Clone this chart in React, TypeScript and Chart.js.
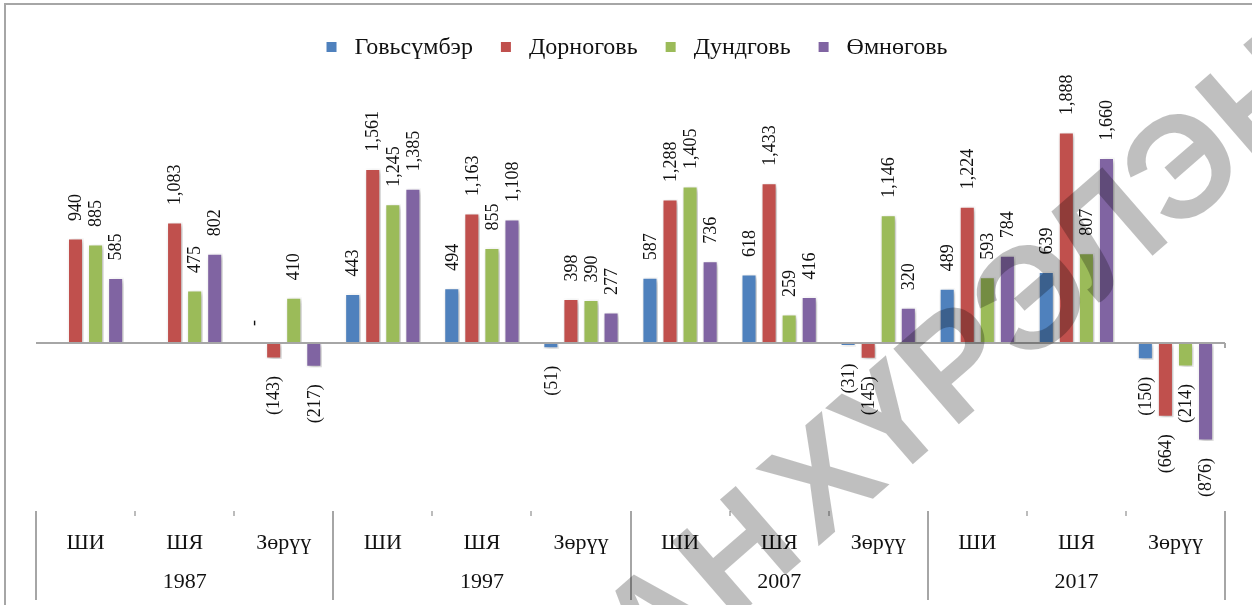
import React, { useEffect, useRef } from "react";
import { Chart, registerables } from "chart.js";

Chart.register(...registerables);

const categories = ["ШИ", "ШЯ", "Зөрүү", "ШИ", "ШЯ", "Зөрүү", "ШИ", "ШЯ", "Зөрүү", "ШИ", "ШЯ", "Зөрүү"];
const years = ["1987", "1997", "2007", "2017"];
const seriesNames = ["Говьсүмбэр", "Дорноговь", "Дундговь", "Өмнөговь"];
const seriesColors = ["#4F81BD", "#C0504D", "#9BBB59", "#8064A2"];
const govisumber = [null, null, 0, 443, 494, -51, 587, 618, -31, 489, 639, -150];
const dornogovi = [940, 1083, -143, 1561, 1163, 398, 1288, 1433, -145, 1224, 1888, -664];
const dundgovi = [885, 475, 410, 1245, 855, 390, 1405, 259, 1146, 593, 807, -214];
const umnugovi = [585, 802, -217, 1385, 1108, 277, 736, 416, 320, 784, 1660, -876];
const watermarkLeft = "САН";
const watermarkRight = "ХҮРЭЛЭН";

const SERIF = '"Liberation Serif", "Times New Roman", serif';
const GRAY = "#a6a6a6";

function fmt(v: number): string {
  if (v === 0) return "-";
  const s = Math.abs(v).toLocaleString("en-US");
  return v < 0 ? "(" + s + ")" : s;
}

const decorPlugin = {
  id: "decor",
  beforeDatasetsDraw(chart: any) {
    const ctx = chart.ctx;
    ctx.save();
    ctx.shadowColor = "rgba(0,0,0,0.28)";
    ctx.shadowBlur = 5;
    ctx.shadowOffsetX = 2;
    ctx.shadowOffsetY = 2;
  },
  afterDatasetsDraw(chart: any) {
    const ctx = chart.ctx;
    ctx.restore();
    const area = chart.chartArea;
    const yScale = chart.scales.y;
    const y0 = yScale.getPixelForValue(0);

    // zero line
    ctx.save();
    ctx.strokeStyle = GRAY;
    ctx.lineWidth = 2;
    ctx.beginPath();
    ctx.moveTo(area.left, y0);
    ctx.lineTo(area.right, y0);
    ctx.moveTo(area.right, y0);
    ctx.lineTo(area.right, y0 + 5);
    ctx.stroke();
    ctx.restore();

    // data labels
    ctx.save();
    ctx.fillStyle = "#111";
    ctx.font = "18px " + SERIF;
    ctx.textBaseline = "middle";
    chart.data.datasets.forEach((ds: any, i: number) => {
      const meta = chart.getDatasetMeta(i);
      meta.data.forEach((bar: any, j: number) => {
        const v = ds.data[j];
        if (v === null || v === undefined) return;
        const neg = v < 0;
        ctx.save();
        ctx.translate(bar.x, bar.y + (neg ? 17 : -17));
        ctx.rotate(-Math.PI / 2);
        ctx.textAlign = neg ? "right" : "left";
        ctx.fillText(fmt(v), 0, 1);
        ctx.restore();
      });
    });
    ctx.restore();

    // category axis
    const xScale = chart.scales.x;
    const n = categories.length;
    const catW = (area.right - area.left) / n;
    ctx.save();
    ctx.fillStyle = "#111";
    ctx.textAlign = "center";
    ctx.textBaseline = "middle";
    ctx.font = "22px " + SERIF;
    categories.forEach((c, i) => {
      ctx.fillText(c, xScale.getPixelForValue(i), 543);
    });
    years.forEach((yr, k) => {
      ctx.fillText(yr, xScale.getPixelForValue(k * 3 + 1), 582);
    });
    ctx.strokeStyle = GRAY;
    for (let i = 0; i <= n; i++) {
      const x = Math.round(area.left + i * catW);
      ctx.beginPath();
      if (i % 3 === 0) {
        ctx.lineWidth = 2;
        ctx.moveTo(x, 511);
        ctx.lineTo(x, 600);
      } else {
        ctx.lineWidth = 1.5;
        ctx.moveTo(x, 511);
        ctx.lineTo(x, 516);
      }
      ctx.stroke();
    }
    ctx.restore();

    // legend
    ctx.save();
    ctx.font = "24px " + SERIF;
    ctx.textBaseline = "middle";
    ctx.textAlign = "left";
    const sq = 10;
    const gapSq = 18;
    const gapItem = 28;
    const widths = seriesNames.map((s) => ctx.measureText(s).width);
    let total = 0;
    widths.forEach((w, i) => {
      total += sq + gapSq + w + (i < widths.length - 1 ? gapItem : 0);
    });
    let x = 637 - total / 2;
    const ly = 47;
    seriesNames.forEach((s, i) => {
      ctx.fillStyle = seriesColors[i];
      ctx.fillRect(x, ly - sq / 2, sq, sq);
      x += sq + gapSq;
      ctx.fillStyle = "#111";
      ctx.fillText(s, x, ly + 1);
      x += widths[i] + gapItem;
    });
    ctx.restore();

    // frame
    ctx.save();
    ctx.strokeStyle = GRAY;
    ctx.lineWidth = 2;
    ctx.beginPath();
    ctx.moveTo(5, chart.height);
    ctx.lineTo(5, 4);
    ctx.lineTo(chart.width, 4);
    ctx.stroke();
    ctx.restore();
  },
  afterDraw(chart: any) {
    const ctx = chart.ctx;
    ctx.save();
    ctx.font = 'bold 145px "Liberation Sans", Arial, sans-serif';
    ctx.fillStyle = "rgba(0,0,0,0.25)";
    ctx.textBaseline = "alphabetic";
    ctx.translate(820, 476);
    ctx.rotate((-41 * Math.PI) / 180);
    const xw = ctx.measureText("Х").width;
    ctx.textAlign = "left";
    ctx.fillText(watermarkRight, -xw / 2, 52);
    ctx.textAlign = "right";
    ctx.fillText(watermarkLeft, -xw / 2 - 12, 52);
    ctx.restore();
  },
};

export default function App() {
  const ref = useRef<HTMLCanvasElement | null>(null);
  useEffect(() => {
    document.body.style.margin = "0";
    document.body.style.overflow = "hidden";
    const canvas = ref.current;
    if (!canvas) return;
    const series = [govisumber, dornogovi, dundgovi, umnugovi];
    const chart = new Chart(canvas, {
      type: "bar",
      data: {
        labels: categories,
        datasets: series.map((d, i) => ({
          label: seriesNames[i],
          data: d,
          backgroundColor: seriesColors[i],
          borderColor: "#ffffff",
          borderWidth: 1.5,
          categoryPercentage: 0.81,
          barPercentage: 0.8,
        })),
      },
      options: {
        responsive: false,
        animation: false,
        devicePixelRatio: 1,
        layout: { padding: { left: 36, right: 27, top: 75, bottom: 100 } },
        scales: {
          x: { display: false },
          y: { display: false, min: -1449, max: 2397 },
        },
        plugins: {
          legend: { display: false },
          tooltip: { enabled: false },
        },
      },
      plugins: [decorPlugin],
    });
    return () => chart.destroy();
  }, []);
  return (
    <canvas
      ref={ref}
      width={1252}
      height={605}
      style={{ display: "block", width: 1252, height: 605, background: "#fff" }}
    />
  );
}
